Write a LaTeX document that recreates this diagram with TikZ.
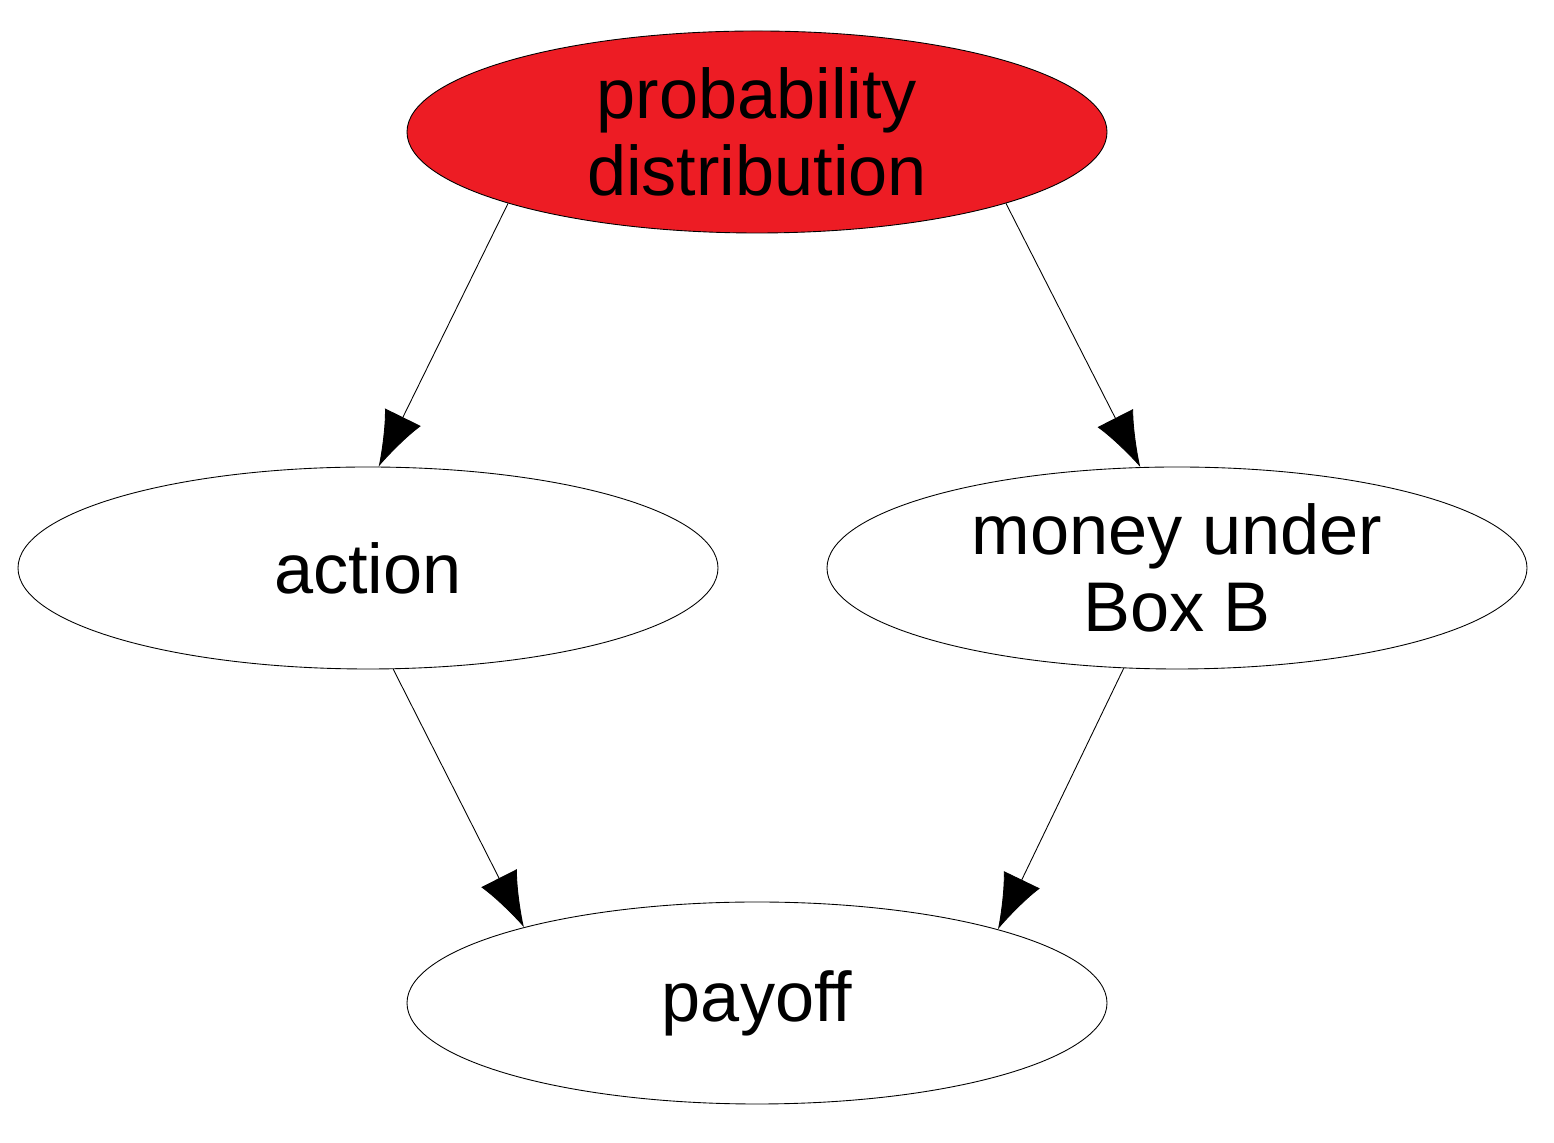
\documentclass[tikz,border=0pt]{standalone}
\usepackage{fontspec}
\setmainfont{Liberation Sans}
\usetikzlibrary{shapes.geometric,arrows.meta}
\definecolor{distred}{HTML}{ED1C24}
\begin{document}
\begin{tikzpicture}[
	var/.style={ellipse, draw=black, line width=0.5pt, minimum width=14cm, minimum height=4.04cm, inner sep=0pt, align=center, font=\fontsize{40}{44}\selectfont},
	link/.style={-{Latex[length=1.1cm,width=0.8cm]}, line width=0.5pt}]
	\useasboundingbox (0,0) rectangle (31.08,22.86);
	\node[var, fill=distred] (dist) at (15.14,20.22) {probability\\distribution};
	\node[var] (action) at (7.36,11.5) {action};
	\node[var] (money) at (23.54,11.5) {money under\\Box B};
	\node[var] (payoff) at (15.14,2.8) {payoff};
	\draw[link] (dist.196.8) -- (action.84.5);
	\draw[link] (dist.-16.7) -- (money.110.7);
	\draw[link] (action.-76.8) -- (payoff.162.2);
	\draw[link] (money.242.1) -- (payoff.17.8);
\end{tikzpicture}
\end{document}
